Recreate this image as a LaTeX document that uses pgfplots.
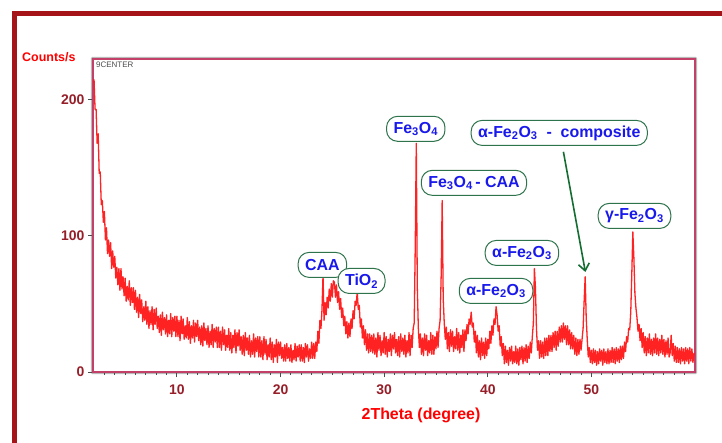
\documentclass[border=0pt]{standalone}
\usepackage{pgfplots}
\pgfplotsset{compat=1.18}
\usepackage{pgfplotstable}
\usepackage{fontspec}
\setmainfont{Liberation Sans}
\usetikzlibrary{arrows.meta}
\definecolor{frameRed}{RGB}{165,20,25}
\definecolor{axPink}{RGB}{195,65,105}
\definecolor{tickRed}{RGB}{150,30,40}
\definecolor{lblGreen}{RGB}{45,115,75}
\definecolor{lblBlue}{RGB}{25,25,235}
\definecolor{arrGreen}{RGB}{20,110,50}
\definecolor{xrdRed}{RGB}{255,10,10}

\tikzset{label box/.style={draw=lblGreen, line width=1bp, fill=white, rounded corners=11bp,
    text=lblBlue, font=\fontsize{16}{18}\selectfont\bfseries, inner xsep=7bp, inner ysep=3.5bp, minimum height=25bp}}

\pgfplotstableread{
x y
2.0 215
2.1 193
2.2 193
2.3 168
2.4 175
2.5 146
2.6 147
2.7 123
2.8 126
2.9 110
3.0 118
3.1 97
3.2 106
3.3 87
3.4 97
3.5 85
3.6 95
3.7 76
3.8 89
3.9 77
4.0 85
4.1 69
4.2 77
4.3 64
4.4 76
4.5 60
4.6 76
4.7 61
4.8 70
4.9 56
5.0 69
5.1 52
5.2 63
5.3 53
5.4 67
5.5 49
5.6 62
5.7 51
5.8 62
5.9 46
6.0 60
6.1 44
6.2 55
6.3 40
6.4 57
6.5 43
6.6 53
6.7 37
6.8 48
6.9 38
7.0 52
7.1 35
7.2 48
7.3 32
7.4 45
7.5 35
7.6 48
7.7 31
7.8 46
7.9 35
8.0 47
8.1 32
8.2 41
8.3 29
8.4 42
8.5 27
8.6 44
8.7 31
8.8 40
8.9 28
9.0 42
9.1 26
9.2 38
9.3 28
9.4 43
9.5 26
9.6 40
9.7 30
9.8 41
9.9 26
10.0 41
10.1 26
10.2 38
10.3 23
10.4 41
10.5 28
10.6 39
10.7 24
10.8 34
10.9 25
11.0 40
11.1 24
11.2 37
11.3 21
11.4 34
11.5 25
11.6 38
11.7 22
11.8 36
11.9 26
12.0 38
12.1 23
12.2 33
12.3 20
12.4 34
12.5 19
12.6 36
12.7 23
12.8 32
12.9 20
13.0 34
13.1 18
13.2 30
13.3 20
13.4 35
13.5 18
13.6 32
13.7 22
13.8 33
13.9 18
14.0 33
14.1 18
14.2 30
14.3 16
14.4 33
14.5 20
14.6 31
14.7 16
14.8 27
14.9 18
15.0 32
15.1 16
15.2 29
15.3 14
15.4 27
15.5 18
15.6 31
15.7 14
15.8 29
15.9 19
16.0 31
16.1 16
16.2 26
16.3 13
16.4 27
16.5 12
16.6 29
16.7 16
16.8 25
16.9 13
17.0 27
17.1 11
17.2 23
17.3 13
17.4 28
17.5 11
17.6 25
17.7 15
17.8 26
17.9 11
18.0 26
18.1 11
18.2 23
18.3 9
18.4 26
18.5 13
18.6 24
18.7 9
18.8 20
18.9 11
19.0 25
19.1 9
19.2 22
19.3 7
19.4 20
19.5 11
19.6 24
19.7 7
19.8 22
19.9 12
20.0 22
20.1 10
20.2 18
20.3 8
20.4 20
20.5 8
20.6 21
20.7 10
20.8 18
20.9 8
21.0 20
21.1 7
21.2 16
21.3 9
21.4 21
21.5 8
21.6 19
21.7 11
21.8 20
21.9 8
22.0 20
22.1 8
22.2 18
22.3 7
22.4 21
22.5 11
22.6 20
22.7 8
22.8 17
22.9 10
23.0 22
23.1 10
23.2 21
23.3 10
23.4 22
23.5 15
23.6 30
23.7 21
23.8 38
23.9 32
24.0 46
24.1 71
24.2 38
24.3 51
24.4 42
24.5 55
24.6 47
24.7 61
24.8 52
24.9 65
25.0 55
25.1 67
25.2 66
25.3 55
25.4 64
25.5 51
25.6 59
25.7 46
25.8 54
25.9 40
26.0 47
26.1 34
26.2 41
26.3 28
26.4 37
26.5 25
26.6 36
26.7 26
26.8 39
26.9 32
27.0 45
27.1 39
27.2 52
27.3 49
27.4 59
27.5 46
27.6 49
27.7 33
27.8 39
27.9 25
28.0 34
28.1 20
28.2 31
28.3 16
28.4 28
28.5 14
28.6 28
28.7 15
28.8 27
28.9 14
29.0 28
29.1 13
29.2 25
29.3 11
29.4 29
29.5 16
29.6 27
29.7 12
29.8 23
29.9 14
30.0 29
30.1 13
30.2 26
30.3 11
30.4 24
30.5 15
30.6 28
30.7 12
30.8 27
30.9 17
31.0 29
31.1 14
31.2 24
31.3 12
31.4 26
31.5 11
31.6 28
31.7 15
31.8 25
31.9 13
32.0 27
32.1 11
32.2 23
32.3 14
32.4 29
32.5 12
32.6 27
32.7 18
32.8 32
32.9 36
33.0 92
33.1 168
33.2 62
33.3 32
33.4 18
33.5 28
33.6 13
33.7 25
33.8 12
33.9 28
34.0 16
34.1 27
34.2 12
34.3 23
34.4 14
34.5 29
34.6 13
34.7 27
34.8 13
34.9 26
35.0 17
35.1 30
35.2 18
35.3 32
35.4 38
35.5 70
35.6 126
35.7 54
35.8 36
35.9 24
36.0 33
36.1 17
36.2 29
36.3 15
36.4 31
36.5 19
36.6 30
36.7 15
36.8 26
36.9 17
37.0 32
37.1 16
37.2 29
37.3 14
37.4 27
37.5 18
37.6 31
37.7 15
37.8 31
37.9 23
38.0 35
38.1 28
38.2 39
38.3 35
38.4 44
38.5 33
38.6 36
38.7 22
38.8 30
38.9 14
39.0 27
39.1 11
39.2 23
39.3 9
39.4 25
39.5 12
39.6 22
39.7 10
39.8 25
39.9 12
40.0 24
40.1 17
40.2 30
40.3 21
40.4 34
40.5 27
40.6 39
40.7 35
40.8 48
40.9 42
41.0 30
41.1 34
41.2 19
41.3 26
41.4 12
41.5 21
41.6 6
41.7 19
41.8 7
41.9 16
42.0 5
42.1 18
42.2 8
42.3 19
42.4 6
42.5 15
42.6 7
42.7 19
42.8 6
42.9 17
43.0 5
43.1 18
43.2 9
43.3 19
43.4 6
43.5 18
43.6 8
43.7 20
43.8 7
43.9 19
44.0 10
44.1 22
44.2 14
44.3 26
44.4 36
44.5 76
44.6 62
44.7 32
44.8 16
44.9 23
45.0 10
45.1 23
45.2 11
45.3 22
45.4 10
45.5 25
45.6 12
45.7 25
45.8 12
45.9 27
46.0 15
46.1 27
46.2 15
46.3 29
46.4 18
46.5 30
46.6 16
46.7 30
46.8 19
46.9 33
47.0 22
47.1 34
47.2 22
47.3 36
47.4 24
47.5 34
47.6 20
47.7 34
47.8 20
47.9 31
48.0 17
48.1 29
48.2 17
48.3 27
48.4 13
48.5 25
48.6 12
48.7 24
48.8 13
48.9 24
49.0 16
49.1 24
49.2 32
49.3 52
49.4 70
49.5 40
49.6 24
49.7 11
49.8 18
49.9 7
50.0 16
50.1 6
50.2 17
50.3 7
50.4 16
50.5 5
50.6 15
50.7 6
50.8 17
50.9 8
51.0 16
51.1 5
51.2 17
51.3 7
51.4 15
51.5 6
51.6 17
51.7 6
51.8 16
51.9 7
52.0 18
52.1 7
52.2 17
52.3 6
52.4 18
52.5 8
52.6 17
52.7 7
52.8 19
52.9 9
53.0 19
53.1 10
53.2 22
53.3 15
53.4 26
53.5 22
53.6 32
53.7 31
53.8 44
53.9 72
54.0 103
54.1 84
54.2 58
54.3 47
54.4 40
54.5 30
54.6 35
54.7 23
54.8 32
54.9 18
55.0 29
55.1 14
55.2 26
55.3 12
55.4 25
55.5 14
55.6 28
55.7 13
55.8 24
55.9 12
56.0 25
56.1 14
56.2 28
56.3 13
56.4 25
56.5 12
56.6 24
56.7 14
56.8 27
56.9 13
57.0 24
57.1 11
57.2 23
57.3 13
57.4 25
57.5 11
57.6 14
57.7 27
57.8 12
57.9 21
58.0 8
58.1 19
58.2 7
58.3 18
58.4 7
58.5 17
58.6 6
58.7 18
58.8 8
58.9 17
59.0 6
59.1 18
59.2 8
59.3 17
59.4 6
59.5 18
59.6 8
59.7 17
59.8 7
59.9 14
}\xrd

\newcommand{\sub}[1]{\textsubscript{#1}}

\begin{document}
\begin{tikzpicture}
\path[use as bounding box, fill=white] (-93bp,-71bp) rectangle (629bp,372bp);
\draw[frameRed, line width=4.5bp] (-78.5bp,-71bp) -- (-78.5bp,358.5bp) -- (629bp,358.5bp);
\draw[gray!55, line width=1bp, rounded corners=1bp] (-1.6bp,-1.6bp) rectangle (603.6bp,314.6bp);
\begin{axis}[
  at={(0,0)}, anchor=south west,
  scale only axis, width=602bp, height=313bp,
  xmin=1.9, xmax=60, ymin=0, ymax=230,
  axis line style={axPink, line width=2bp},
  xtick={10,20,30,40,50}, ytick={0,100,200},
  minor xtick={3,4,...,9,11,12,...,19,21,22,...,29,31,32,...,39,41,42,...,49,51,52,...,59},
  tick align=outside,
  xtick pos=bottom, ytick pos=left,
  major tick length=5bp, minor tick length=3bp,
  every tick/.style={gray!60!black, line width=0.9bp},
  /pgf/number format/assume math mode=true,
  tick label style={font=\fontsize{14}{16}\selectfont\bfseries, text=tickRed},
  xticklabel style={yshift=-4bp},
  clip=false,
]
\addplot[xrdRed, line width=1.3bp, line join=round, opacity=0.9] table[x=x, y=y] {\xrd};

\node[label box] at (axis cs:24.04,78.7) {CAA};
\node[label box] at (axis cs:27.82,66.9) {TiO\sub{2}};
\node[label box] at (axis cs:33.05,178.7) {Fe\sub{3}O\sub{4}};
\node[label box] at (axis cs:38.67,139) {Fe\sub{3}O\sub{4}\,- CAA};
\node[label box] at (axis cs:40.8,59.6) {α-Fe\sub{2}O\sub{3}};
\node[label box] at (axis cs:43.3,87.5) {α-Fe\sub{2}O\sub{3}};
\node[label box] at (axis cs:46.9,175.7) {α-Fe\sub{2}O\sub{3}\ \ -\ \ composite};
\node[label box] at (axis cs:54.16,114.7) {γ-Fe\sub{2}O\sub{3}};
\draw[arrGreen, line width=1.6bp, -{Straight Barb[length=7bp,width=11bp]}] (axis cs:47.3,161.8) -- (axis cs:49.42,73.5);

\node[anchor=north west, text=gray!60!black, font=\fontsize{8}{9}\selectfont, inner sep=0pt] at (rel axis cs:0,1) [xshift=3bp, yshift=-2.5bp] {9CENTER};
\end{axis}
\node[anchor=west, text=red, font=\fontsize{12.5}{14}\selectfont\bfseries, inner sep=0pt] at (-71bp,315bp) {Counts/s};
\node[text=red, font=\fontsize{16}{18}\selectfont\bfseries, inner sep=0pt] at (328bp,-43bp) {2Theta (degree)};
\end{tikzpicture}
\end{document}
